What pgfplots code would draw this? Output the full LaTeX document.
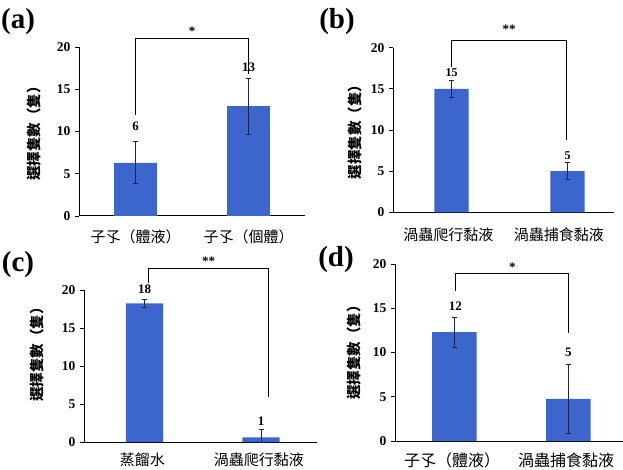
\documentclass[border=0pt]{standalone}
\usepackage{pgfplots}
\pgfplotsset{compat=1.18}
\usepackage{fontspec}
\setmainfont{Liberation Serif}
\newfontfamily\cjk{Noto Sans CJK TC}
\definecolor{barblue}{HTML}{3D66CC}
\definecolor{errnavy}{HTML}{1A2550}
\tikzset{
  val/.style={font=\fontsize{13}{13}\selectfont\bfseries},
  brk/.style={line width=1pt, black},
}
\pgfplotsset{
  panel/.style={
    scale only axis, xmin=0, xmax=2, ymin=0, ymax=20,
    axis lines*=left, clip=false, anchor=south west,
    axis line style={line width=1pt, black},
    tick align=outside, major tick length=4pt,
    tick style={line width=0.8pt, black},
    ytick={0,5,10,15,20},
    /pgf/number format/assume math mode=true,
    yticklabel style={font=\fontsize{13.5}{13.5}\selectfont\bfseries, xshift=-1pt},
    xtick={0.5,1.5},
    extra x ticks={1}, extra x tick labels={},
    extra x tick style={major tick length=4pt},
    xticklabel style={anchor=center, font=\cjk\fontsize{15}{15}\selectfont},
    ylabel style={anchor=center, rotate=0, font=\cjk\bfseries\fontsize{14.5}{14.5}\selectfont},
    ylabel={選擇隻數（隻）},
    ybar, bar shift=0pt,
  },
  bars/.style={fill=barblue, draw=none,
    error bars/.cd, y dir=both, y explicit,
    error bar style={color=errnavy, line width=1pt},
    error mark options={rotate=90, mark size=2.5pt, line width=1pt, color=errnavy}},
}
\begin{document}
\begin{tikzpicture}
\path[use as bounding box] (0pt,0pt) rectangle (623pt,469pt);
% (a)
\begin{axis}[panel, at={(79pt,253pt)}, width=226pt, height=169pt,
  bar width=0.38,
  xticklabels={子孓（體液）,子孓（個體）},
  major x tick style={draw=none},
  xticklabel style={yshift=-17pt},
  ylabel style={at={(axis description cs:-0.2,0.51)}}]
\addplot[bars] coordinates {(0.5,6.3) +- (0,2.5) (1.5,13.0) +- (0,3.3)};
\draw[brk] (axis cs:0.5,11.9) -- (axis cs:0.5,21.06) -- (axis cs:1.5,21.06) -- (axis cs:1.5,16.8);
\node[val] at (axis cs:1,21.9) {*};
\node[val] at (axis cs:0.5,10.65) {6};
\node[val] at (axis cs:1.5,17.6) {13};
\end{axis}
\node[font=\fontsize{29}{29}\selectfont\bfseries] at (18pt,447pt) {(a)};
% (b)
\begin{axis}[panel, at={(393pt,256.7pt)}, width=221pt, height=164.6pt,
  bar width=0.31,
  xticklabels={渦蟲爬行黏液,渦蟲捕食黏液},
  major x tick style={draw=none},
  xticklabel style={yshift=-18pt},
  ylabel style={at={(axis description cs:-0.172,0.51)}}]
\addplot[bars] coordinates {(0.53,15) +- (0,1.0) (1.58,5) +- (0,1.0)};
\draw[brk] (axis cs:0.53,17.6) -- (axis cs:0.53,20.9) -- (axis cs:1.57,20.9) -- (axis cs:1.57,8.8);
\node[val] at (axis cs:1.05,22.3) {**};
\node[val, font=\fontsize{12}{12}\selectfont\bfseries] at (axis cs:0.53,17.0) {15};
\node[val, font=\fontsize{12}{12}\selectfont\bfseries] at (axis cs:1.58,6.9) {5};
\end{axis}
\node[font=\fontsize{29}{29}\selectfont\bfseries] at (337pt,447pt) {(b)};
% (c)
\begin{axis}[panel, at={(84pt,27pt)}, width=233pt, height=152pt,
  bar width=0.32,
  xticklabels={蒸餾水,渦蟲爬行黏液},
  major x tick style={draw=none},
  xticklabel style={yshift=-14pt},
  ylabel style={at={(axis description cs:-0.2,0.6)}}]
\addplot[bars] coordinates {(0.52,18.25) +- (0,0.55) (1.52,0.6) += (0,1.0) -= (0,0.6)};
\draw[brk] (axis cs:0.55,20.9) -- (axis cs:0.55,22.8) -- (axis cs:1.58,22.8) -- (axis cs:1.58,5.9);
\node[val] at (axis cs:1.07,23.8) {**};
\node[val] at (axis cs:0.52,20.1) {18};
\node[val] at (axis cs:1.52,2.7) {1};
\end{axis}
\node[font=\fontsize{29}{29}\selectfont\bfseries] at (18pt,204pt) {(c)};
% (d)
\begin{axis}[panel, at={(395pt,28pt)}, width=228pt, height=177pt,
  bar width=0.39,
  xticklabels={子孓（體液）,渦蟲捕食黏液},
  major x tick style={draw=none},
  xticklabel style={yshift=-15pt, font=\cjk\fontsize{16}{16}\selectfont},
  ylabel style={at={(axis description cs:-0.18,0.52)}}]
\addplot[bars] coordinates {(0.52,12.3) +- (0,1.7) (1.52,4.75) +- (0,3.9)};
\draw[brk] (axis cs:0.53,16.9) -- (axis cs:0.53,18.9) -- (axis cs:1.52,18.9) -- (axis cs:1.52,12.2);
\node[val] at (axis cs:1.03,19.6) {*};
\node[val] at (axis cs:0.53,15.2) {12};
\node[val] at (axis cs:1.52,10.0) {5};
\end{axis}
\node[font=\fontsize{29}{29}\selectfont\bfseries] at (336pt,209pt) {(d)};
\end{tikzpicture}
\end{document}
